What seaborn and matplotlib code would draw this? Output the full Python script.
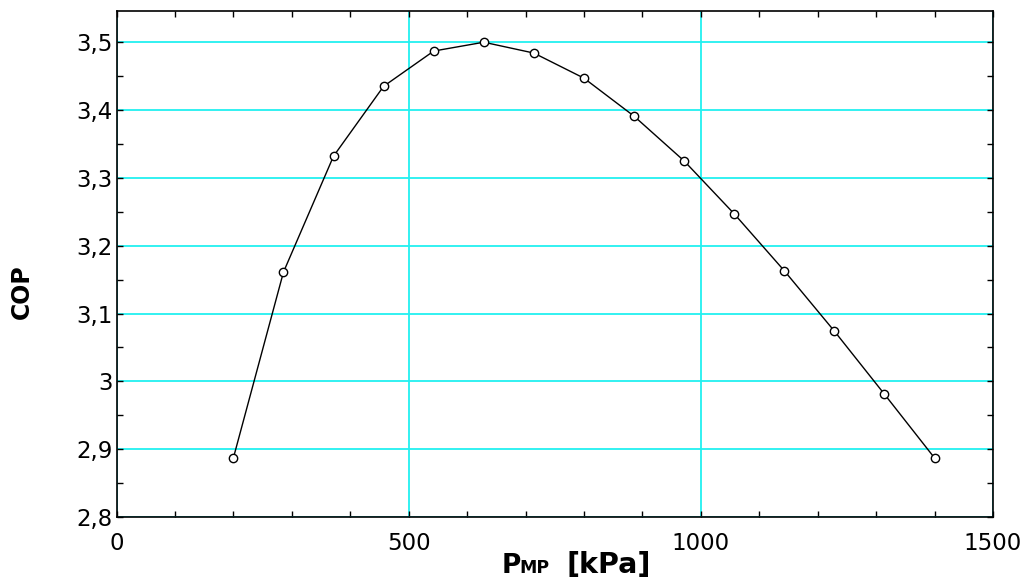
import matplotlib
matplotlib.use("Agg")
import matplotlib.pyplot as plt
import seaborn as sns
import pandas as pd
from matplotlib.ticker import MultipleLocator, FuncFormatter

# pressure of the intermediate stage [kPa] and COP
p_mp = [200, 285.7, 371.4, 457.1, 542.9, 628.6, 714.3, 800,
        885.7, 971.4, 1057.1, 1142.9, 1228.6, 1314.3, 1400]
cop = [2.887, 3.161, 3.332, 3.435, 3.487, 3.500, 3.484, 3.447,
       3.391, 3.325, 3.247, 3.163, 3.074, 2.981, 2.887]

df = pd.DataFrame({"P_MP": p_mp, "COP": cop})

sns.set_style("ticks")
plt.rcParams["font.family"] = ["DejaVu Sans"]
plt.rcParams["text.color"] = "black"

fig = plt.figure(figsize=(10.32, 5.83), dpi=100)
ax = fig.add_axes([0.1129, 0.1132, 0.8493, 0.8679])

sns.lineplot(data=df, x="P_MP", y="COP", ax=ax, color="black", linewidth=1,
             marker="o", markersize=6, markerfacecolor="white",
             markeredgecolor="black", markeredgewidth=1)

ax.set_xlim(0, 1500)
ax.set_ylim(2.8, 3.546)
ax.xaxis.set_major_locator(MultipleLocator(500))
ax.xaxis.set_minor_locator(MultipleLocator(100))
ax.yaxis.set_major_locator(MultipleLocator(0.1))
ax.yaxis.set_minor_locator(MultipleLocator(0.05))
ax.yaxis.set_major_formatter(FuncFormatter(lambda v, p: ("%g" % round(v, 2)).replace(".", ",")))

ax.grid(True, which="major", color="#22f0f0", linewidth=1.3)
ax.set_axisbelow(True)
ax.tick_params(which="both", direction="in", top=True, right=True,
               length=4, width=1, color="black", labelcolor="black", labelsize=16.5)
ax.tick_params(axis="x", pad=11)
ax.tick_params(axis="y", pad=3)
for s in ax.spines.values():
    s.set_linewidth(1.2)
    s.set_color("black")

ax.set_xlabel("")
ax.set_ylabel("")
fig.text(0.021, 0.5, "COP", rotation=90, fontsize=17, fontweight="bold",
         ha="center", va="center")
fig.text(0.486, 0.017, "P", fontsize=19, fontweight="bold", ha="left", va="baseline")
fig.text(0.503, 0.017, "MP", fontsize=12.5, fontweight="bold", ha="left", va="baseline")
fig.text(0.549, 0.017, "[kPa]", fontsize=20.5, fontweight="bold", ha="left", va="baseline")

fig.savefig("out.png", dpi=100)
